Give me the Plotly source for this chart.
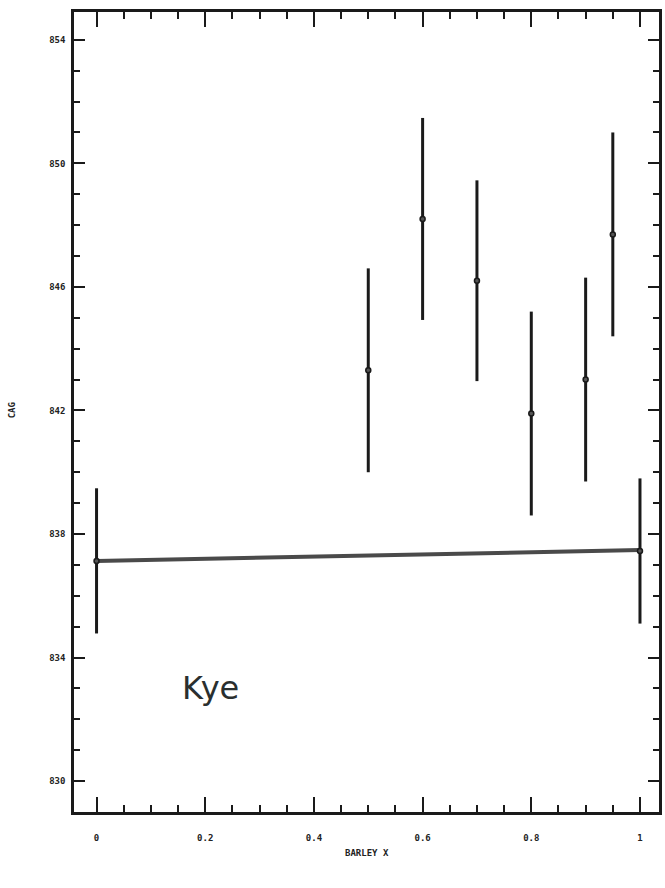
import plotly.graph_objects as go

barley_x = [0.0, 0.5, 0.6, 0.7, 0.8, 0.9, 0.95, 1.0]
cag = [837.13, 843.3, 848.2, 846.2, 841.9, 843.0, 847.7, 837.45]
err = [2.35, 3.3, 3.27, 3.25, 3.3, 3.3, 3.3, 2.35]

fit_x = [0.0, 1.0]
fit_y = [837.13, 837.48]

x_ticks = [0, 0.2, 0.4, 0.6, 0.8, 1]
x_labels = ["0", "0.2", "0.4", "0.6", "0.8", "1"]
y_ticks = [830, 834, 838, 842, 846, 850, 854]
y_labels = ["830", "834", "838", "842", "846", "850", "854"]

fig = go.Figure()
fig.add_trace(go.Scatter(
    x=fit_x, y=fit_y, mode="lines",
    line=dict(color="#4a4a4a", width=4),
    hoverinfo="skip", showlegend=False))
fig.add_trace(go.Scatter(
    x=barley_x, y=cag, mode="markers",
    marker=dict(size=5, color="#555", line=dict(color="#1a1a1a", width=1.5)),
    error_y=dict(type="data", array=err, symmetric=True,
                 thickness=3, width=0, color="#1a1a1a"),
    showlegend=False))

tickfont = dict(family="DejaVu Sans Mono", size=9, color="#222", weight="bold")

fig.update_xaxes(
    range=[-0.0415, 1.035], tickvals=x_ticks, ticktext=x_labels,
    ticks="inside", ticklen=15, tickwidth=2, tickcolor="#1a1a1a",
    minor=dict(dtick=0.05, tick0=0, ticks="inside", ticklen=7, tickwidth=2, tickcolor="#1a1a1a"),
    showline=True, linewidth=2.5, linecolor="#1a1a1a", mirror="ticks",
    showgrid=False, zeroline=False, tickfont=tickfont, ticklabelstandoff=15)
fig.update_yaxes(
    range=[829.0, 854.9], tickvals=y_ticks, ticktext=y_labels,
    ticks="inside", ticklen=11, tickwidth=2, tickcolor="#1a1a1a",
    minor=dict(dtick=1, tick0=830, ticks="inside", ticklen=6, tickwidth=2, tickcolor="#1a1a1a"),
    showline=True, linewidth=2.5, linecolor="#1a1a1a", mirror="ticks",
    showgrid=False, zeroline=False, tickfont=tickfont, ticklabelstandoff=4)

fig.add_annotation(text="BARLEY X", xref="paper", yref="paper",
                   x=(368 - 74) / 588, y=-(853 - 812) / 800, showarrow=False,
                   xanchor="center", yanchor="middle",
                   font=dict(family="DejaVu Sans Mono", size=9, color="#222", weight="bold"))
fig.add_annotation(text="CAG", xref="paper", yref="paper",
                   x=-(74 - 12) / 588, y=(812 - 410) / 800, showarrow=False, textangle=-90,
                   xanchor="center", yanchor="middle",
                   font=dict(family="DejaVu Sans Mono", size=9, color="#222", weight="bold"))
fig.add_annotation(text="Kye", x=0.21, y=833.0, xref="x", yref="y", showarrow=False,
                   font=dict(family="Comic Sans MS, DejaVu Sans", size=32, color="#2a2f2f"))

fig.update_layout(
    width=665, height=888,
    margin=dict(l=74, r=3, t=12, b=76),
    paper_bgcolor="white", plot_bgcolor="white")

fig.write_html("out.html")
